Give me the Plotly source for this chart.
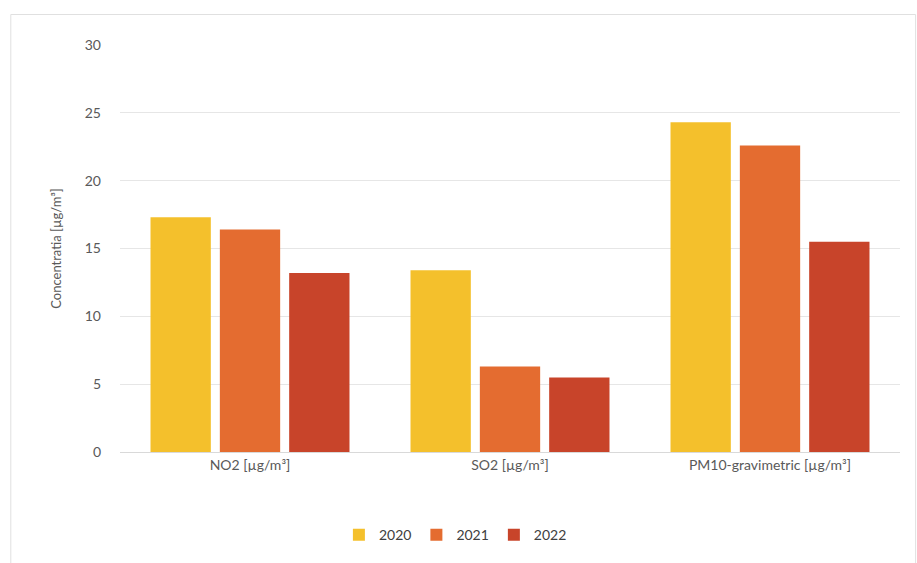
import plotly.graph_objects as go

categories = ["NO2 [µg/m³]", "SO2 [µg/m³]", "PM10-gravimetric [µg/m³]"]
years = ["2020", "2021", "2022"]
values_2020 = [17.3, 13.4, 24.3]
values_2021 = [16.4, 6.3, 22.6]
values_2022 = [13.2, 5.5, 15.5]
colors = ["#F4C02C", "#E46C30", "#C8442A"]

fig = go.Figure()
for name, vals, col in zip(years, [values_2020, values_2021, values_2022], colors):
    fig.add_trace(go.Bar(name=name, x=categories, y=vals, marker=dict(color=col, line=dict(width=0))))

font_family = "Lato, Open Sans, sans-serif"
fig.update_layout(
    width=917, height=563,
    margin=dict(l=120, r=17, t=45, b=111),
    paper_bgcolor="white", plot_bgcolor="white",
    barmode="group", bargap=0.2, bargroupgap=0.13,
    font=dict(family=font_family, size=14, color="#595959"),
    legend=dict(orientation="h", x=0.43, xanchor="center", y=-0.165, yanchor="top",
                font=dict(size=14, color="#404040"), itemwidth=30, traceorder="normal"),
    yaxis=dict(range=[0, 30], dtick=5, showgrid=True, gridcolor="#E6E6E6", gridwidth=1,
               zeroline=False, showline=False, ticks="", ticklabelstandoff=18,
               title=dict(text="Concentratia [µg/m³]", font=dict(size=13, color="#595959"), standoff=20)),
    xaxis=dict(showline=True, linecolor="#D9D9D9", linewidth=1, ticks="", showgrid=False),
    shapes=[dict(type="rect", xref="paper", yref="paper", x0=-0.14, x1=1.02, y0=-0.36, y1=1.075,
                 line=dict(color="#E0E0E0", width=1))],
)
fig.write_html("out.html")
